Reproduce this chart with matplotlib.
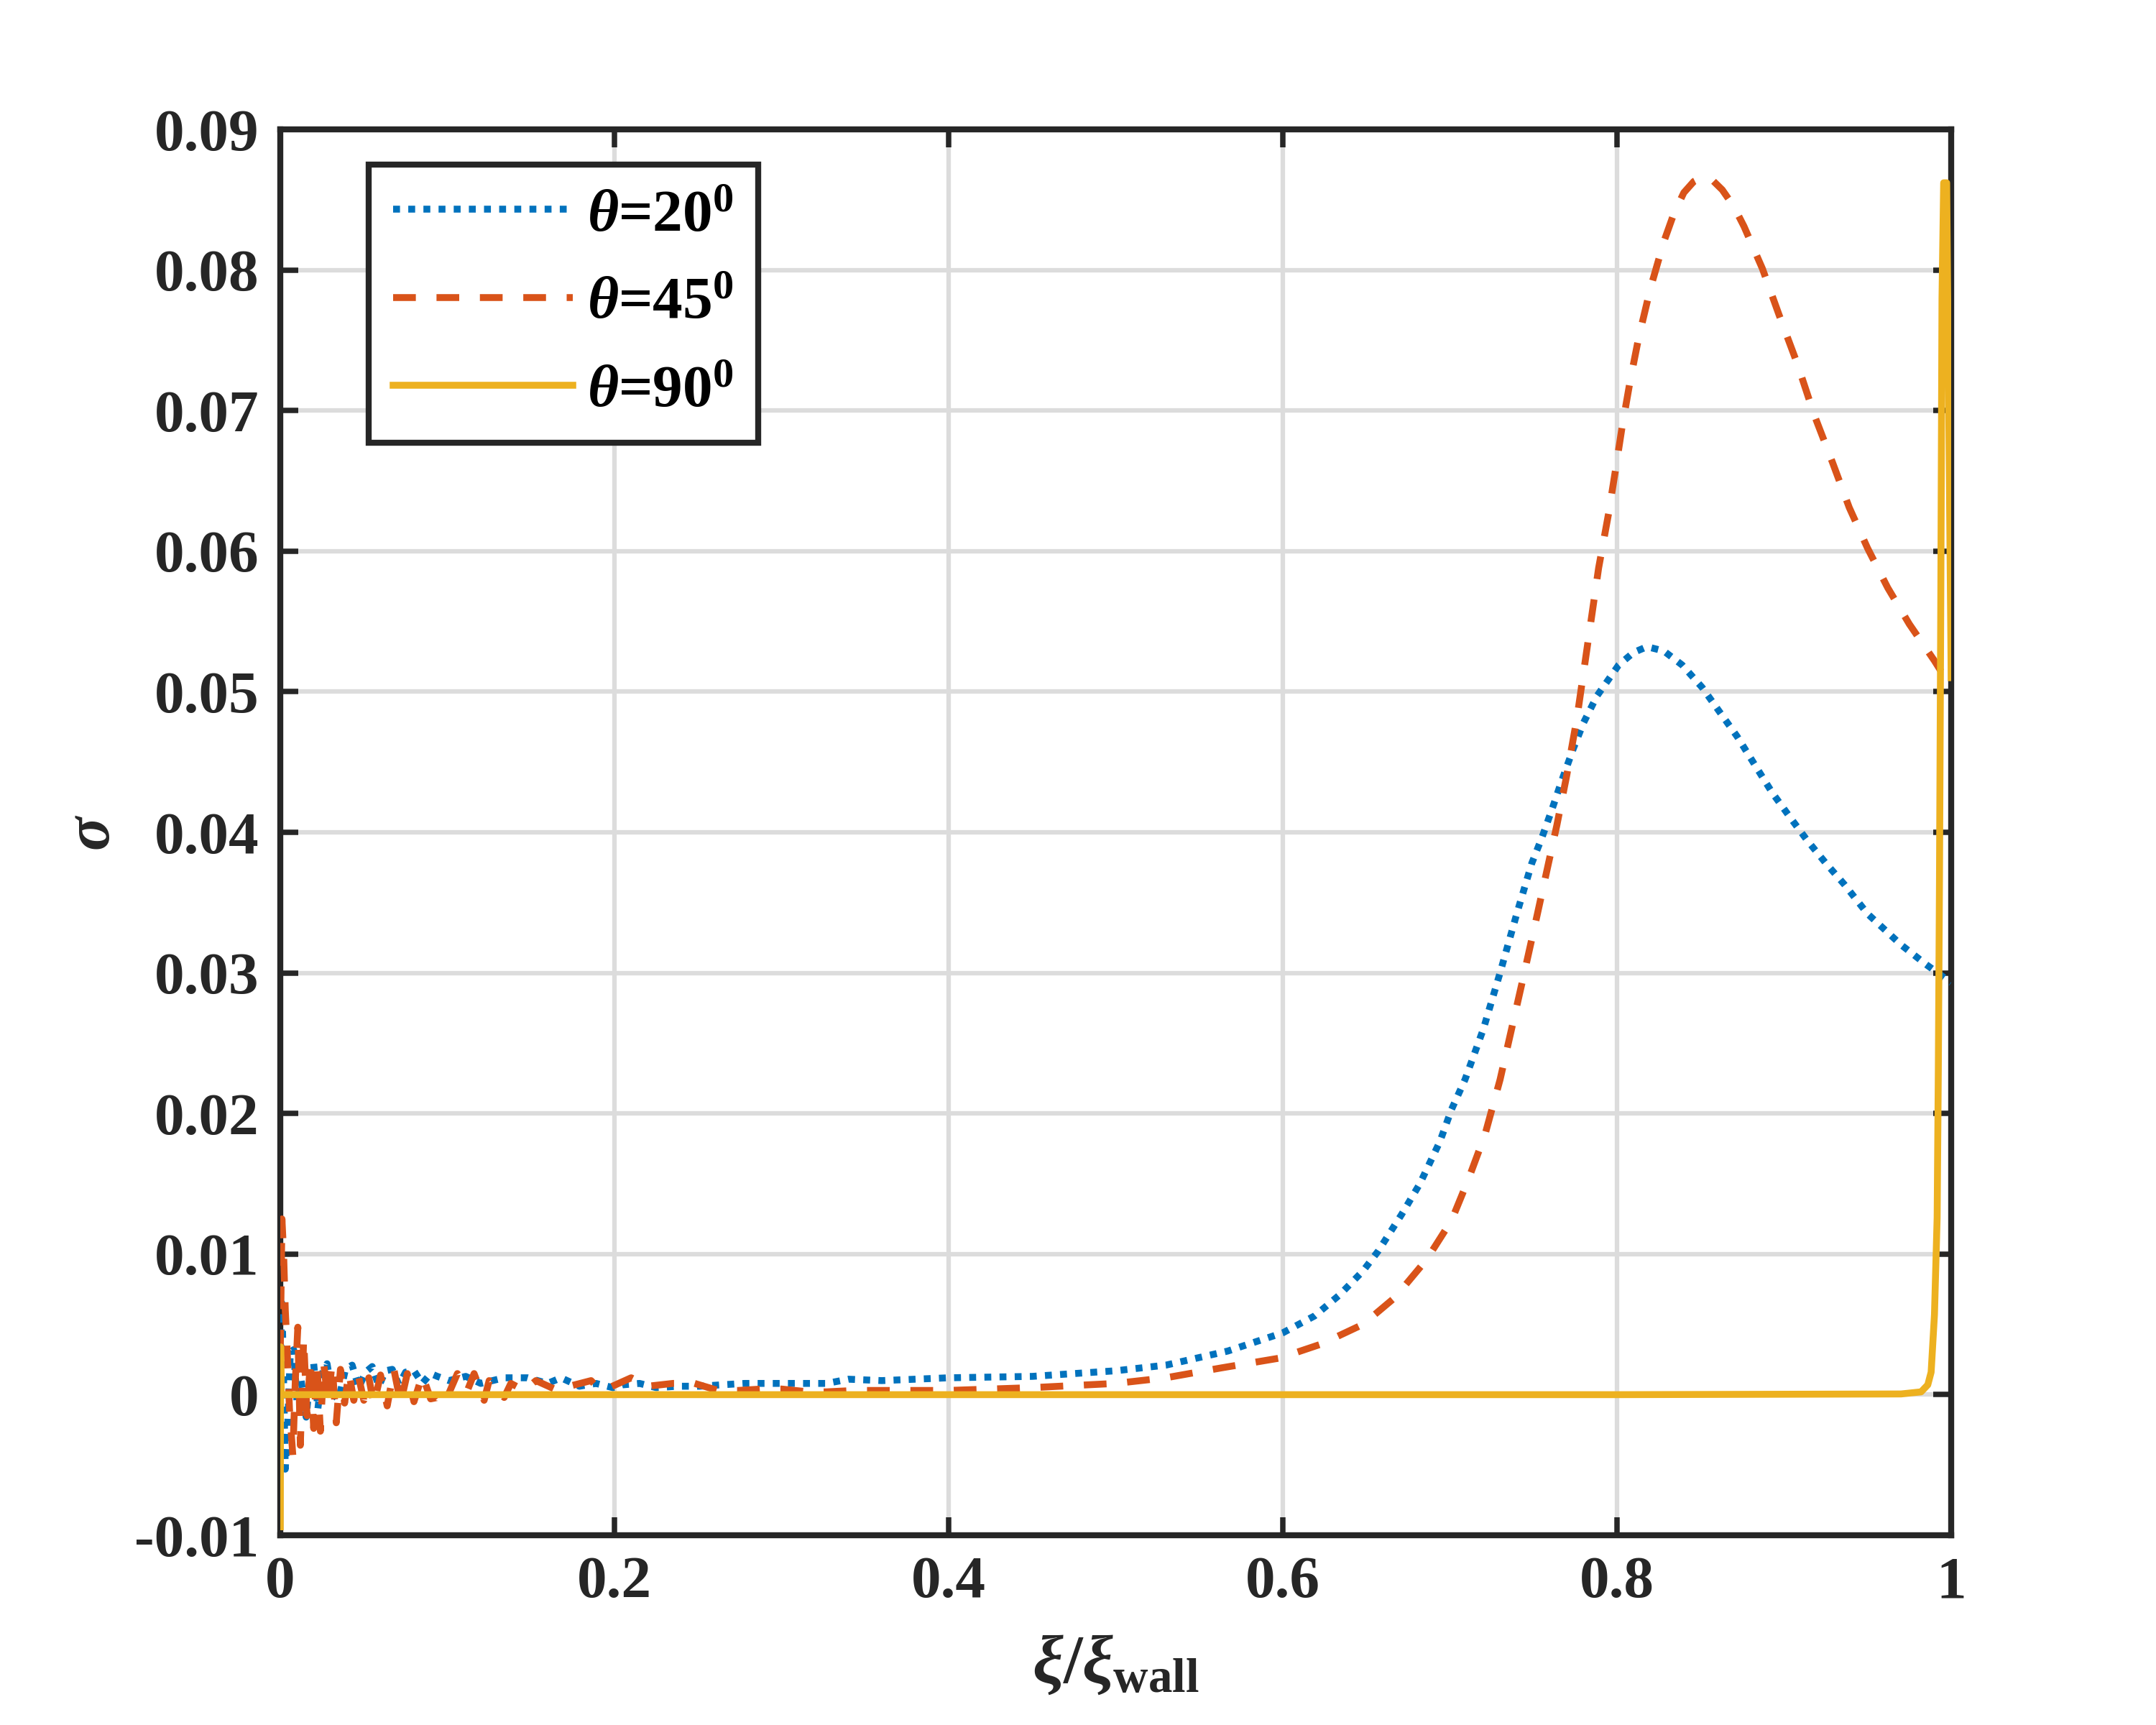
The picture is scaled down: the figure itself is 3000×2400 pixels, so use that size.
import matplotlib
matplotlib.use("Agg")
import matplotlib.pyplot as plt
from matplotlib.ticker import FixedLocator, FuncFormatter

# ── Data ──────────────────────────────────────────────────────────────────────

x20 = [0.0, 0.001, 0.002, 0.003, 0.0045, 0.006, 0.008, 0.010, 0.0125, 0.0155,
       0.018, 0.020, 0.0225, 0.025, 0.028, 0.031, 0.035, 0.039, 0.043, 0.047,
       0.051, 0.055, 0.059, 0.063, 0.067, 0.071, 0.075, 0.080, 0.085, 0.090,
       0.094, 0.101, 0.111, 0.120, 0.134, 0.148, 0.160, 0.168, 0.179, 0.189,
       0.199, 0.205, 0.215, 0.225, 0.238, 0.251, 0.264, 0.278, 0.295, 0.311,
       0.327, 0.340, 0.36, 0.40, 0.45, 0.50, 0.53, 0.567, 0.600, 0.619,
       0.634, 0.648, 0.657, 0.671, 0.682, 0.694, 0.701, 0.709, 0.72, 0.73,
       0.74, 0.749, 0.755, 0.761, 0.767, 0.774, 0.780, 0.788, 0.801, 0.810,
       0.818, 0.828, 0.839, 0.851, 0.860, 0.872, 0.883, 0.893, 0.904, 0.914,
       0.925, 0.936, 0.95, 0.97, 0.985, 1.0]
s20 = [0.0020, 0.0065, 0.0010, -0.0053, -0.0020, 0.0030, 0.0032, -0.0005, 0.0010, -0.0016,
       0.0015, 0.0022, -0.0010, 0.0015, 0.0022, 0.0000, -0.0003, 0.0018, 0.0021, 0.0005,
       0.0016, 0.0020, 0.0006, 0.0017, 0.0018, 0.0007, 0.0016, 0.0017, 0.0008, 0.0015,
       0.0013, 0.0010, 0.0013, 0.0008, 0.0012, 0.0012, 0.0008, 0.0012, 0.0006, 0.0008,
       0.0005, 0.0007, 0.0008, 0.0005, 0.0006, 0.0006, 0.0007, 0.0008, 0.0008, 0.0008,
       0.0008, 0.0011, 0.0010, 0.0012, 0.0013, 0.0017, 0.0021, 0.0031, 0.0044, 0.0056,
       0.0071, 0.0088, 0.0102, 0.0128, 0.0150, 0.0180, 0.0203, 0.0224, 0.0260, 0.0300,
       0.0342, 0.0378, 0.0396, 0.0416, 0.0437, 0.0460, 0.0478, 0.0497, 0.0519, 0.0528,
       0.0532, 0.0529, 0.0519, 0.0503, 0.0488, 0.0468, 0.0447, 0.0428, 0.0410, 0.0394,
       0.0378, 0.0363, 0.0342, 0.0320, 0.0306, 0.0293]

x45 = [0.0, 0.001, 0.002, 0.003, 0.004, 0.0055, 0.0075, 0.009, 0.0105, 0.012,
       0.014, 0.016, 0.018, 0.020, 0.022, 0.024, 0.026, 0.0285, 0.031, 0.0335,
       0.036, 0.0385, 0.041, 0.044, 0.047, 0.050, 0.053, 0.056, 0.060, 0.064,
       0.068, 0.072, 0.076, 0.080, 0.085, 0.090, 0.094, 0.098, 0.106, 0.112,
       0.116, 0.122, 0.125, 0.134, 0.138, 0.146, 0.153, 0.166, 0.173, 0.186,
       0.190, 0.195, 0.210, 0.220, 0.235, 0.248, 0.262, 0.274, 0.288, 0.300,
       0.316, 0.327, 0.344, 0.40, 0.45, 0.50, 0.53, 0.563, 0.598, 0.623,
       0.648, 0.667, 0.686, 0.701, 0.711, 0.721, 0.730, 0.743, 0.752, 0.759,
       0.764, 0.770, 0.776, 0.781, 0.785, 0.789, 0.795, 0.799, 0.803, 0.808,
       0.813, 0.820, 0.828, 0.834, 0.840, 0.846, 0.851, 0.857, 0.863, 0.870,
       0.876, 0.887, 0.897, 0.908, 0.918, 0.929, 0.939, 0.950, 0.962, 0.975,
       0.990, 1.0]
s45 = [0.0030, 0.0125, 0.0100, 0.0060, 0.0035, -0.0010, -0.0043, 0.0010, 0.0048, -0.0036,
       0.0040, -0.0015, 0.0025, -0.0024, 0.0022, -0.0026, 0.0022, -0.0005, 0.0022, -0.0020,
       0.0018, -0.0006, 0.0016, -0.0004, 0.0012, -0.0004, 0.0012, -0.0007, 0.0014, -0.0008,
       0.0018, -0.0006, 0.0015, -0.0005, 0.0014, -0.0003, -0.0002, -0.0007, 0.0015, 0.0003,
       0.0015, -0.0004, 0.0010, -0.0002, 0.0008, 0.0003, 0.0010, 0.0003, 0.0006, 0.0010,
       0.0005, 0.0004, 0.0012, 0.0006, 0.0008, 0.0008, 0.0003, 0.0003, 0.0004, 0.0004,
       0.0002, 0.0002, 0.0003, 0.0003, 0.0005, 0.0008, 0.0012, 0.0019, 0.0026, 0.0036,
       0.0050, 0.0069, 0.0096, 0.0124, 0.0153, 0.0185, 0.0224, 0.0292, 0.0340, 0.0378,
       0.0405, 0.0441, 0.0481, 0.0522, 0.0555, 0.0588, 0.0627, 0.0657, 0.0688, 0.0722,
       0.0752, 0.0787, 0.0820, 0.0840, 0.0855, 0.0863, 0.0866, 0.0864, 0.0857, 0.0845,
       0.0831, 0.0801, 0.0768, 0.0733, 0.0697, 0.0663, 0.0631, 0.0602, 0.0574, 0.0548,
       0.0522, 0.0503]

x90 = [0.0, 0.0002, 0.0006, 0.2, 0.5, 0.8, 0.97, 0.982, 0.986, 0.988,
       0.990, 0.9916, 0.9923, 0.993, 0.9938, 0.9945, 0.9955, 0.9973, 1.0]
s90 = [-0.0094, 0.0034, 0.0, 0.0, 0.0, 0.0, 0.00005, 0.0002, 0.0007, 0.0016,
       0.0057, 0.0126, 0.0230, 0.0366, 0.0570, 0.0780, 0.0862, 0.0862, 0.0510]

labels = [r"$\theta$=20$^{0}$", r"$\theta$=45$^{0}$", r"$\theta$=90$^{0}$"]
x_ticks = [0, 0.2, 0.4, 0.6, 0.8, 1.0]
y_ticks = [-0.01, 0, 0.01, 0.02, 0.03, 0.04, 0.05, 0.06, 0.07, 0.08, 0.09]

# ── Style ─────────────────────────────────────────────────────────────────────

DARK = "#262626"
plt.rcParams.update({
    "font.family": "Liberation Serif",
    "font.weight": "bold",
    "font.size": 20,
    "mathtext.fontset": "custom",
    "mathtext.rm": "Liberation Serif:bold",
    "mathtext.bf": "Liberation Serif:bold",
    "mathtext.it": "Liberation Serif:italic",
    "axes.unicode_minus": False,
})

fig = plt.figure(figsize=(10, 8), dpi=300)
ax = fig.add_axes([0.13, 0.11, 0.775, 0.815])

ax.plot(x20, s20, color="#0072BD", linestyle=(0, (1, 1.2)), linewidth=2.3,
        dash_capstyle="butt", label=labels[0], zorder=3)
ax.plot(x45, s45, color="#D95319", linestyle=(0, (3.3, 3.0)), linewidth=2.3,
        label=labels[1], zorder=3)
ax.plot(x90, s90, color="#EDB120", linestyle="-", linewidth=2.3,
        label=labels[2], zorder=4)

ax.set_xlim(0, 1)
ax.set_ylim(-0.01, 0.09)
ax.xaxis.set_major_locator(FixedLocator(x_ticks))
ax.yaxis.set_major_locator(FixedLocator(y_ticks))
ax.xaxis.set_major_formatter(FuncFormatter(lambda v, _: f"{v:g}"))
ax.yaxis.set_major_formatter(FuncFormatter(lambda v, _: f"{round(v, 3):g}"))

ax.grid(True, color="#dcdcdc", linewidth=1.5, zorder=0)
ax.set_axisbelow(True)
ax.tick_params(direction="in", length=6, width=1.8, colors=DARK,
               top=True, right=True, pad=7, labelsize=20)
for sp in ax.spines.values():
    sp.set_linewidth(2.0)
    sp.set_color(DARK)

ax.set_xlabel(r"$\xi/\xi_{\mathbf{wall}}$", fontsize=23, color=DARK, labelpad=8)
ax.set_ylabel(r"$\sigma$", fontsize=21, color=DARK, labelpad=4)

leg = ax.legend(loc="upper left", bbox_to_anchor=(0.053, 0.975),
                borderaxespad=0, fontsize=20, handlelength=3.0,
                handletextpad=0.25, labelspacing=0.55, borderpad=0.4,
                fancybox=False, framealpha=1)
leg.get_frame().set_edgecolor(DARK)
leg.get_frame().set_linewidth(2.0)

fig.savefig("out.png", dpi=300, facecolor="white")
